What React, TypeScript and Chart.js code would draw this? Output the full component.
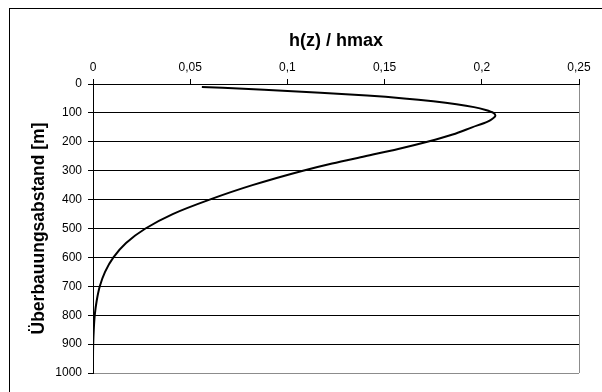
import React, { useEffect, useRef } from 'react';
import { Chart, registerables } from 'chart.js';

Chart.register(...registerables);

// Depth below (Überbauungsabstand) in metres
const depthZ = [10, 20, 30, 40, 50, 60, 70, 80, 90, 100, 110, 120, 130, 150, 175, 200, 225, 250, 275, 300, 350, 400, 450, 500, 550, 600, 650, 700, 750, 800, 850, 900, 950, 1000];
// h(z) / hmax
const ratioH = [0.056, 0.088, 0.117, 0.141, 0.160, 0.175, 0.187, 0.196, 0.202, 0.206, 0.207, 0.2055, 0.203, 0.195, 0.185, 0.172, 0.157, 0.140, 0.123, 0.108, 0.082, 0.060, 0.041, 0.027, 0.017, 0.0105, 0.0062, 0.0035, 0.0019, 0.0009, 0.0004, 0.0001, 0.0, 0.0];

const xTitle = 'h(z) / hmax';
const yTitle = 'Überbauungsabstand [m]';
const xMin = 0;
const xMax = 0.25;
const xStep = 0.05;
const yMin = 0;
const yMax = 1000;
const yStep = 100;

const FONT = 'Arial, "Liberation Sans", Helvetica, sans-serif';

export default function App() {
  const ref = useRef<HTMLCanvasElement>(null);

  useEffect(() => {
    document.body.style.margin = '0';
    const canvas = ref.current;
    if (!canvas) return;
    const chart = new Chart(canvas, {
      type: 'scatter',
      data: {
        datasets: [
          {
            data: depthZ.map((z, i) => ({ x: ratioH[i], y: z })),
            showLine: true,
            borderColor: '#000',
            backgroundColor: '#000',
            borderWidth: 2,
            pointRadius: 0,
            cubicInterpolationMode: 'monotone',
            fill: false,
          },
        ],
      },
      options: {
        indexAxis: 'y',
        animation: false,
        responsive: false,
        maintainAspectRatio: false,
        layout: { padding: { left: 10, top: 20, right: 23, bottom: 19 } },
        plugins: { legend: { display: false }, tooltip: { enabled: false } },
        scales: {
          x: {
            type: 'linear',
            position: 'top',
            min: xMin,
            max: xMax,
            ticks: {
              stepSize: xStep,
              color: '#000',
              font: { family: FONT, size: 12 },
              padding: 4,
              maxRotation: 0,
              callback: (v: any) => String(Number(Number(v).toFixed(4))).replace('.', ','),
            },
            grid: {
              drawOnChartArea: true,
              color: (ctx: any) =>
                ctx.tick && Math.abs(ctx.tick.value - xMax) < 1e-9 ? '#8c8c8c' : 'rgba(0,0,0,0)',
              tickColor: '#000',
              tickLength: 5,
              lineWidth: 1,
            },
            border: { color: '#000', width: 1 },
            title: {
              display: true,
              text: xTitle,
              color: '#000',
              font: { family: FONT, size: 18, weight: 'bold' },
              padding: { top: 10, bottom: 0 },
            },
            afterFit: (s: any) => {
              s.height = 64;
            },
          },
          y: {
            type: 'linear',
            position: 'left',
            reverse: true,
            min: yMin,
            max: yMax,
            ticks: {
              stepSize: yStep,
              color: '#000',
              font: { family: FONT, size: 12 },
              padding: 6,
              callback: (v: any) => String(v),
            },
            grid: {
              color: (ctx: any) =>
                ctx.tick && ctx.tick.value === yMax ? '#8c8c8c' : '#000',
              tickColor: '#000',
              tickLength: 5,
              lineWidth: 1,
            },
            border: { color: '#000', width: 1 },
            title: {
              display: true,
              text: yTitle,
              color: '#000',
              font: { family: FONT, size: 17.5, weight: 'bold' },
              padding: { top: 19, bottom: 0 },
            },
            afterFit: (s: any) => {
              s.width = 83;
            },
          },
        },
      },
    });
    return () => chart.destroy();
  }, []);

  return (
    <div style={{ position: 'relative', width: 602, height: 392, overflow: 'hidden', background: '#fff' }}>
      <div
        style={{
          position: 'absolute',
          left: 9,
          top: 8,
          width: 700,
          height: 500,
          border: '1px solid #000',
          boxSizing: 'border-box',
        }}
      />
      <canvas ref={ref} width={602} height={392} style={{ position: 'absolute', left: 0, top: 0 }} />
    </div>
  );
}
